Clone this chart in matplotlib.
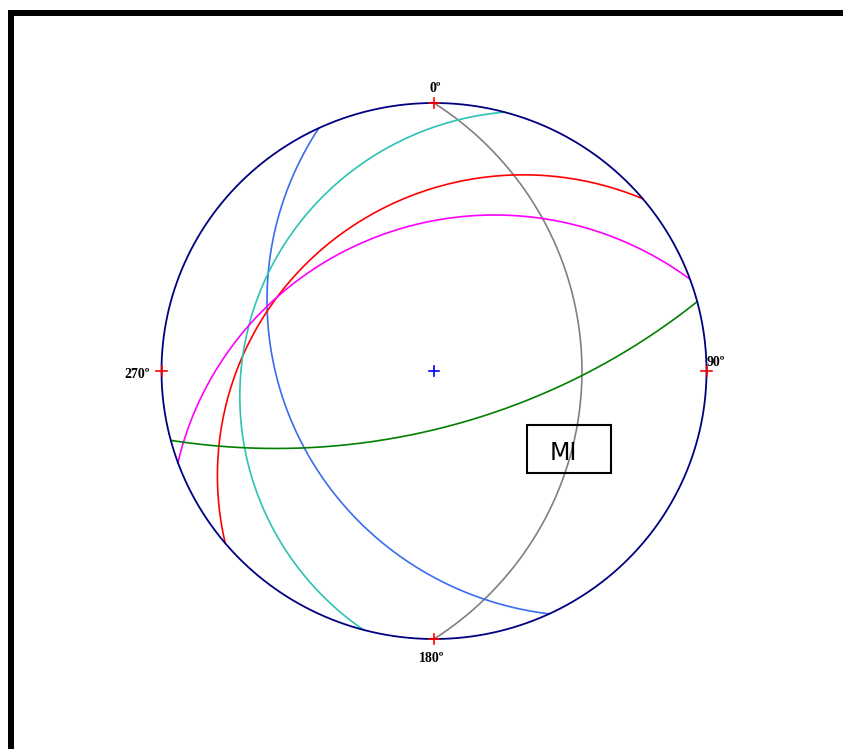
import numpy as np
import matplotlib
matplotlib.use("Agg")
import matplotlib.pyplot as plt
from matplotlib.lines import Line2D
from matplotlib.patches import Rectangle

# Planos (direcao pela regra da mao direita, mergulho) em graus
strikes = [0, 155, 230, 195, 250, 75]
dips = [33, 32, 27, 20, 33, 66]
cores = ['gray', '#3a6cf0', 'red', '#2cc3b0', '#ff00ff', 'green']

rotulos = ['0º', '90º', '180º', '270º']
legenda = 'MI'


def grande_circulo(strike, dip, n=400):
    # Projecao estereografica (Wulff), hemisferio inferior
    s = np.radians(strike)
    d = np.radians(dip)
    t = np.linspace(0, np.pi, n)
    sv = np.array([np.sin(s), np.cos(s), 0.0])
    dv = np.array([np.cos(d) * np.sin(s + np.pi / 2),
                   np.cos(d) * np.cos(s + np.pi / 2),
                   np.sin(d)])
    v = np.outer(np.cos(t), sv) + np.outer(np.sin(t), dv)
    e, nn, dd = v[:, 0], v[:, 1], v[:, 2]
    return e / (1 + dd), nn / (1 + dd)


W, H = 843, 749
fig = plt.figure(figsize=(W / 100, H / 100), dpi=100)

# Moldura preta (topo e esquerda)
fig.add_artist(Line2D([11 / W, 1], [1 - 13 / H, 1 - 13 / H], color='black',
                      lw=4.3, solid_capstyle='butt'))
fig.add_artist(Line2D([11 / W, 11 / W], [0, 1 - 10 / H], color='black',
                      lw=4.3, solid_capstyle='butt'))

# Eixo do estereograma: circulo unitario ocupa a rede
cx, cy, rx, ry = 434, 371, 272.5, 268
ax = fig.add_axes([(cx - rx) / W, (H - cy - ry) / H, 2 * rx / W, 2 * ry / H])
ax.set_xlim(-1, 1)
ax.set_ylim(-1, 1)
ax.axis('off')

th = np.linspace(0, 2 * np.pi, 720)
ax.plot(np.cos(th), np.sin(th), color='#000080', lw=1.3, zorder=3, clip_on=False)

for strike, dip, cor in zip(strikes, dips, cores):
    x, y = grande_circulo(strike, dip)
    ax.plot(x, y, color=cor, lw=1.2, zorder=2, clip_on=False)

# Marcas nos pontos cardeais e centro
k = 0.02
for px, py in [(0, 1), (1, 0), (0, -1), (-1, 0)]:
    ax.plot([px - k, px + k], [py, py], color='red', lw=1.2, zorder=4, clip_on=False)
    ax.plot([px, px], [py - k, py + k], color='red', lw=1.2, zorder=4, clip_on=False)
ax.plot([-k, k], [0, 0], color='blue', lw=1.2)
ax.plot([0, 0], [-k, k], color='blue', lw=1.2)

fonte = dict(family='Liberation Serif', fontweight='bold', fontsize=10)
ax.text(0.005, 1.03, rotulos[0], ha='center', va='bottom', **fonte)
ax.text(1.0, 0.03, rotulos[1], ha='left', va='center', **fonte)
ax.text(-0.01, -1.05, rotulos[2], ha='center', va='top', **fonte)
ax.text(-1.042, -0.012, rotulos[3], ha='right', va='center', **fonte)

# Caixa com a sigla
fig.add_artist(Rectangle((527 / W, 1 - 473 / H), 84 / W, 48 / H,
                         transform=fig.transFigure, fill=False,
                         edgecolor='black', lw=1.5))
fig.text(563 / W, 1 - 453 / H, legenda, ha='center', va='center',
         fontsize=17, family='DejaVu Sans')

fig.savefig('out.png', dpi=100)
